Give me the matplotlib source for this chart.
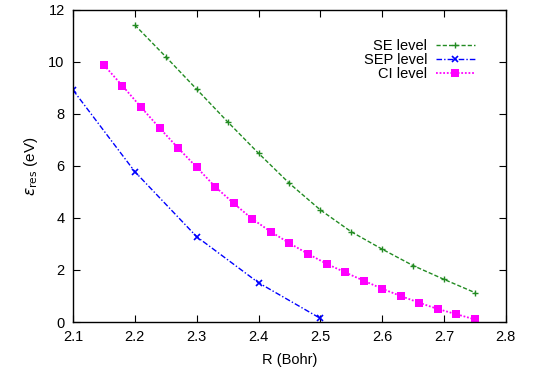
import matplotlib.pyplot as plt

plt.rcParams['font.family'] = ['Liberation Sans', 'DejaVu Sans']

# SE level
r_se = [2.20, 2.25, 2.30, 2.35, 2.40, 2.45, 2.50, 2.55, 2.60, 2.65, 2.70, 2.75]
e_se = [11.42, 10.2, 8.95, 7.7, 6.49, 5.33, 4.31, 3.47, 2.8, 2.17, 1.64, 1.13]

# SEP level
r_sep = [2.1, 2.2, 2.3, 2.4, 2.5]
e_sep = [8.92, 5.78, 3.28, 1.51, 0.14]

# CI level
r_ci = [2.15, 2.18, 2.21, 2.24, 2.27, 2.30, 2.33, 2.36, 2.39, 2.42, 2.45,
        2.48, 2.51, 2.54, 2.57, 2.60, 2.63, 2.66, 2.69, 2.72, 2.75]
e_ci = [9.88, 9.08, 8.26, 7.46, 6.69, 5.95, 5.2, 4.56, 3.96, 3.47, 3.03,
        2.62, 2.24, 1.91, 1.59, 1.28, 1.0, 0.74, 0.5, 0.3, 0.1]

fig = plt.figure(figsize=(5.33, 3.68), dpi=100)
ax = fig.add_axes([0.137, 0.125, 0.812, 0.848])

ax.plot(r_se, e_se, color='#228b22', linestyle=(0, (3, 1.5)), linewidth=1,
        marker='+', markersize=5, markeredgewidth=1, label='SE level')
ax.plot(r_sep, e_sep, color='#0000ff', linestyle=(0, (4, 1.5, 1, 1.5)), linewidth=1,
        marker='x', markersize=5, markeredgewidth=1.2, label='SEP level')
ax.plot(r_ci, e_ci, color='#ff00ff', linestyle=(0, (1, 1)), linewidth=1.3,
        marker='s', markersize=5.5, markeredgewidth=0, label='CI level')

ax.set_xlim(2.1, 2.8)
ax.set_ylim(0, 12)
ax.set_xticks([2.1, 2.2, 2.3, 2.4, 2.5, 2.6, 2.7, 2.8])
ax.set_yticks([0, 2, 4, 6, 8, 10, 12])
ax.tick_params(direction='in', top=True, right=True, length=5, labelsize=10.5,
               pad=6)
for s in ax.spines.values():
    s.set_linewidth(1)

ax.set_xlabel('R (Bohr)', fontsize=10.5, labelpad=6)
ax.set_ylabel(r'$\varepsilon_{\rm res}$ (eV)', fontsize=11, labelpad=6)

ax.legend(loc='upper right', bbox_to_anchor=(0.946, 0.93), frameon=False,
          markerfirst=False, handlelength=2.7, fontsize=10.5,
          labelspacing=0.0, borderpad=0, handletextpad=0.6, numpoints=1)

fig.savefig('out.png', dpi=100)
